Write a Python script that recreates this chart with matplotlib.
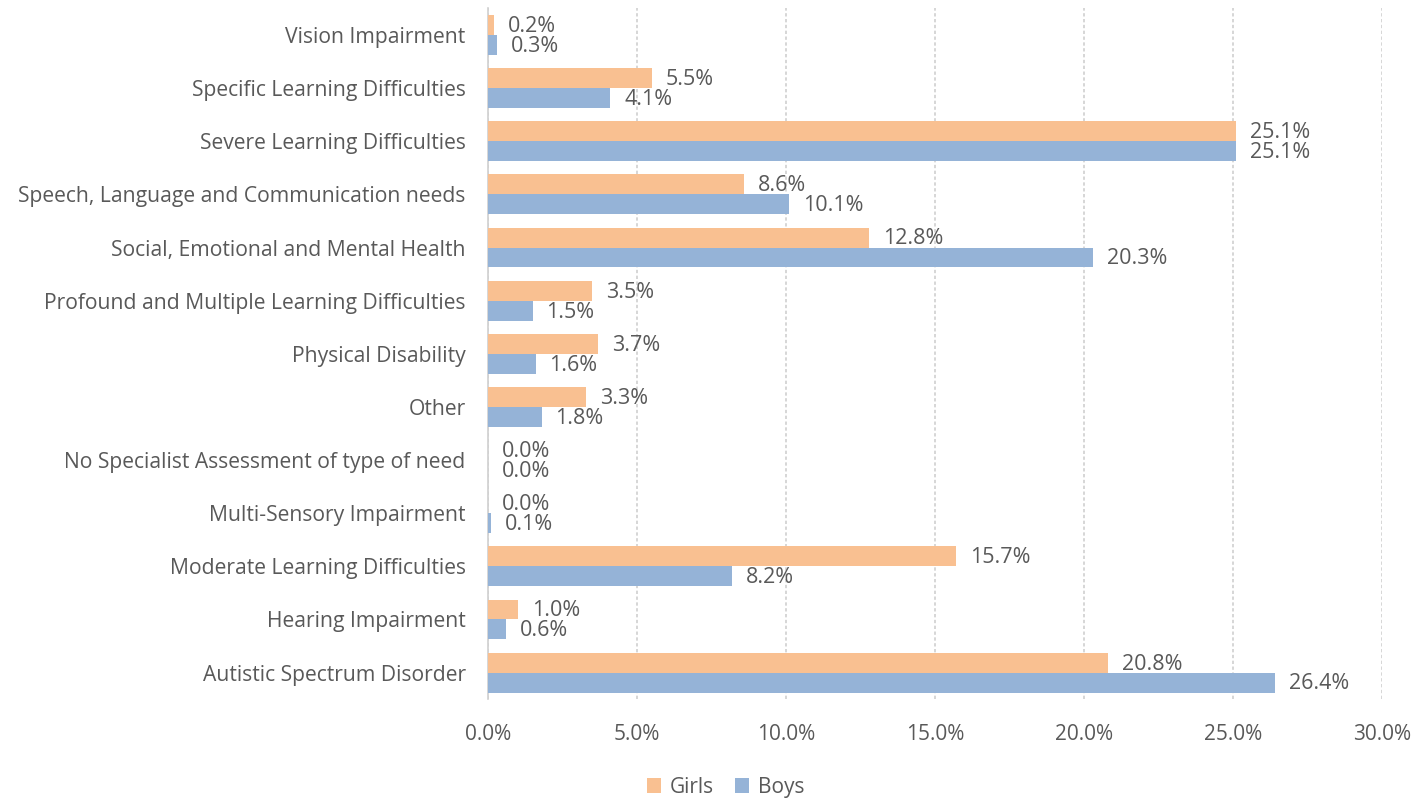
import matplotlib
matplotlib.use("Agg")
import matplotlib.pyplot as plt
import numpy as np
from matplotlib.ticker import FuncFormatter

categories = [
    "Autistic Spectrum Disorder",
    "Hearing Impairment",
    "Moderate Learning Difficulties",
    "Multi-Sensory Impairment",
    "No Specialist Assessment of type of need",
    "Other",
    "Physical Disability",
    "Profound and Multiple Learning Difficulties",
    "Social, Emotional and Mental Health",
    "Speech, Language and Communication needs",
    "Severe Learning Difficulties",
    "Specific Learning Difficulties",
    "Vision Impairment",
]
girls = [20.8, 1.0, 15.7, 0.0, 0.0, 3.3, 3.7, 3.5, 12.8, 8.6, 25.1, 5.5, 0.2]
boys = [26.4, 0.6, 8.2, 0.1, 0.0, 1.8, 1.6, 1.5, 20.3, 10.1, 25.1, 4.1, 0.3]
xticks = [0, 5, 10, 15, 20, 25, 30]

plt.rcParams['font.family'] = ['Open Sans', 'DejaVu Sans']
txt = '#595959'
girls_c = '#F9C091'
boys_c = '#95B3D7'

fig = plt.figure(figsize=(14.28, 8.0), dpi=100)
ax = fig.add_axes([0.3417, 0.126, 0.6261, 0.8635])

y = np.arange(len(categories))
h = 0.375
ax.barh(y + h / 2, girls, height=h, color=girls_c, label='Girls', zorder=3)
ax.barh(y - h / 2, boys, height=h, color=boys_c, label='Boys', zorder=3)

for yi, v in zip(y, girls):
    ax.annotate(f"{v:.1f}%", (v, yi + h / 2), xytext=(10, -1), textcoords='offset points',
                va='center', ha='left', fontsize=15.5, color=txt)
for yi, v in zip(y, boys):
    ax.annotate(f"{v:.1f}%", (v, yi - h / 2), xytext=(10, -1), textcoords='offset points',
                va='center', ha='left', fontsize=15.5, color=txt)

ax.set_xlim(0, 30)
ax.set_ylim(-0.5, 12.5)
ax.set_xticks(xticks)
ax.xaxis.set_major_formatter(FuncFormatter(lambda v, p: f"{v:.1f}%"))
ax.set_yticks(y)
ax.set_yticklabels(categories)
ax.tick_params(axis='y', length=0, pad=16, labelsize=15.2, labelcolor=txt)
ax.tick_params(axis='x', length=0, pad=18, labelsize=15, labelcolor=txt)
ax.grid(axis='x', color='#D0D0D0', linestyle=(0, (2, 1.5)), linewidth=1.2, zorder=0)
for s in ['top', 'right', 'bottom']:
    ax.spines[s].set_visible(False)
ax.spines['left'].set_color('#D0D0D0')
ax.spines['left'].set_linewidth(1.2)

handles, labels = ax.get_legend_handles_labels()
fig.legend(handles, labels, loc='center', bbox_to_anchor=(0.508, 0.016), ncol=2,
           frameon=False, fontsize=15, labelcolor=txt, handlelength=0.7, handleheight=0.7,
           handletextpad=0.4, columnspacing=1.0)

fig.savefig('out.png', dpi=100)
